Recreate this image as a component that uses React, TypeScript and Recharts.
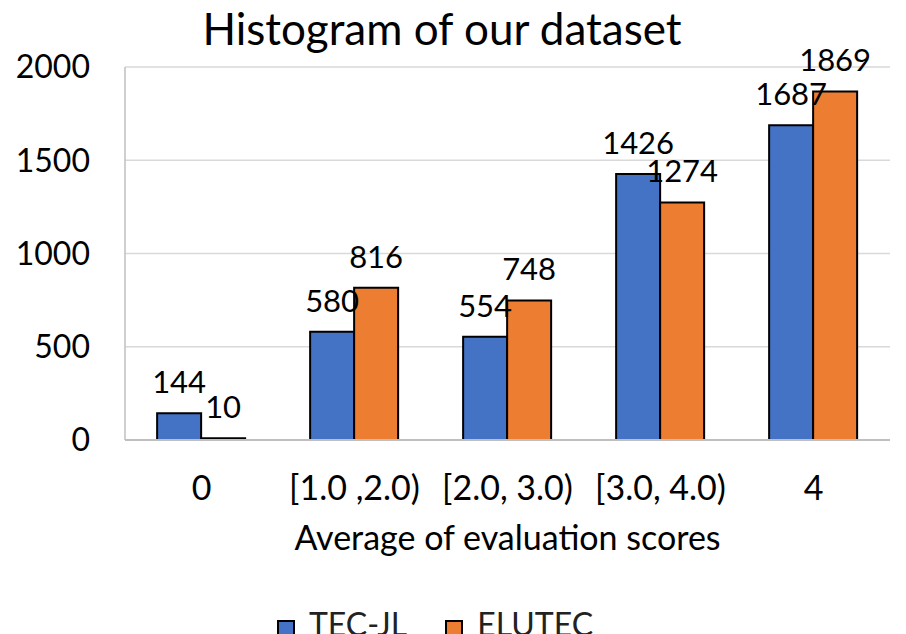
import { BarChart, Bar, XAxis, YAxis, CartesianGrid, LabelList } from "recharts";

const CATEGORIES = ["0", "[1.0 ,2.0)", "[2.0, 3.0)", "[3.0, 4.0)", "4"];
const TEC_JL = [144, 580, 554, 1426, 1687];
const ELUTEC = [10, 816, 748, 1274, 1869];
const Y_TICKS = [0, 500, 1000, 1500, 2000];
const SERIES = [
  { key: "tec", name: "TEC-JL", color: "#4472c4" },
  { key: "elu", name: "ELUTEC", color: "#ed7d31" },
];

const FONT = "Lato, 'Open Sans', sans-serif";

const data = CATEGORIES.map((c, i) => ({ cat: c, tec: TEC_JL[i], elu: ELUTEC[i] }));

export default function App() {
  return (
    <div style={{ position: "absolute", left: 0, top: 0, width: 906, height: 634, overflow: "hidden", background: "#fff", fontFamily: FONT }}>
      <div style={{ position: "absolute", left: 0, width: 906, top: 2, textAlign: "center", paddingRight: 22, boxSizing: "border-box", fontSize: 44, color: "#000", lineHeight: "52px" }}>
        Histogram of our dataset
      </div>
      <BarChart
        width={906}
        height={580}
        data={data}
        margin={{ top: 67, right: 16, left: 0, bottom: 0 }}
        barCategoryGap="21%"
        barGap={0}
      >
        <CartesianGrid vertical={false} stroke="#d9d9d9" strokeWidth={1.5} />
        <XAxis
          dataKey="cat"
          height={140}
          tickLine={false}
          tickSize={0}
          tickMargin={36}
          stroke="#bfbfbf"
          strokeWidth={2}
          tick={{ fontSize: 34, fill: "#000", fontFamily: FONT }}
          interval={0}
          label={{ value: "Average of evaluation scores", position: "insideTop", offset: 86, fontSize: 34, fill: "#000", fontFamily: FONT }}
        />
        <YAxis
          width={125}
          domain={[0, 2000]}
          ticks={Y_TICKS}
          tickLine={false}
          tickSize={0}
          tickMargin={35}
          stroke="#bfbfbf"
          strokeWidth={1.5}
          tick={{ fontSize: 32, fill: "#000", fontFamily: FONT }}
        />
        {SERIES.map((s) => (
          <Bar key={s.key} dataKey={s.key} name={s.name} fill={s.color} stroke="#000" strokeWidth={2} isAnimationActive={false}>
            <LabelList dataKey={s.key} position="top" offset={20} fontSize={31} fill="#000" fontFamily={FONT} />
          </Bar>
        ))}
      </BarChart>
      <div style={{ position: "absolute", top: 604, left: 0, width: 870, display: "flex", justifyContent: "center", gap: 38, fontSize: 32, color: "#222" }}>
        {SERIES.map((s) => (
          <div key={s.key} style={{ display: "flex", alignItems: "center", gap: 14 }}>
            <span style={{ display: "inline-block", width: 14, height: 18, marginTop: 14, background: s.color, border: "2px solid #000" }} />
            <span>{s.name}</span>
          </div>
        ))}
      </div>
    </div>
  );
}
